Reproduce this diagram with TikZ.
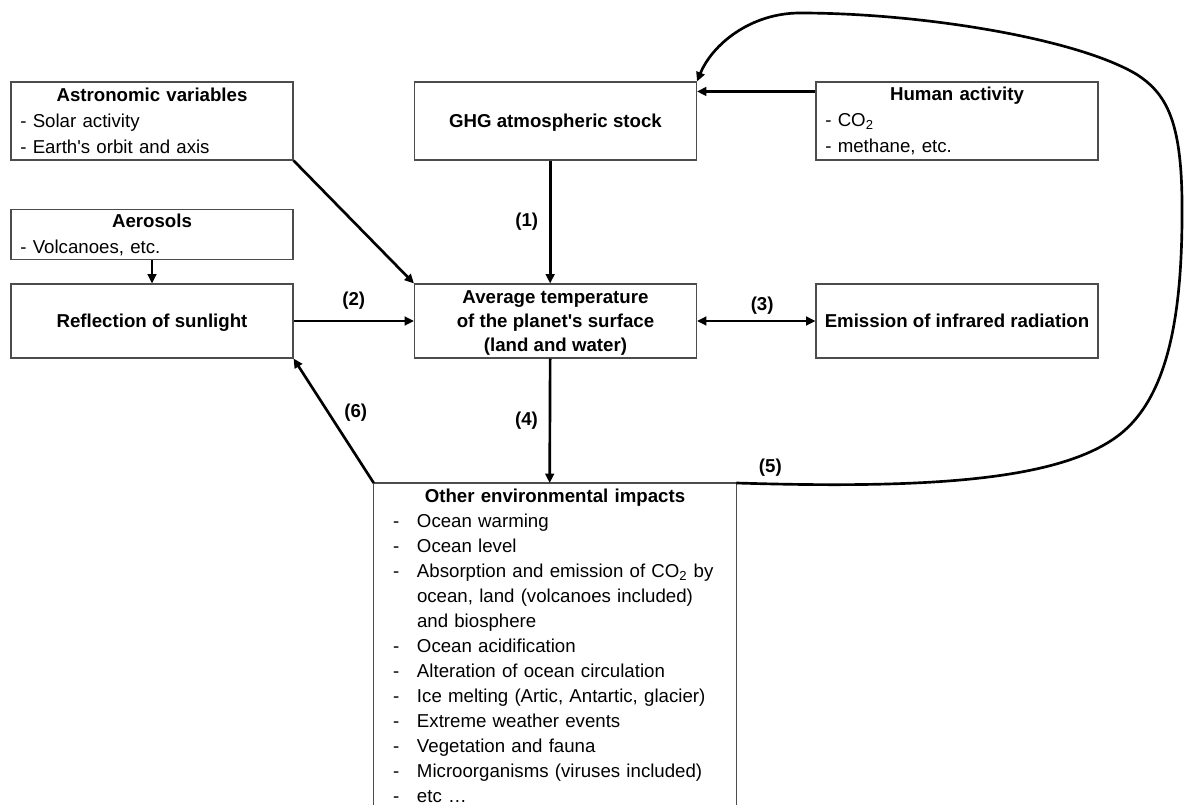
\documentclass[tikz,border=0pt]{standalone}
\usepackage{fontspec}
\setmainfont{Liberation Sans}
\usepackage{tikz}
\usetikzlibrary{arrows.meta,calc}

\tikzstyle{box} = [
    rectangle,
    draw=black!70,
    line width=0.8pt,
    minimum width=211.5pt,
    minimum height=58.5pt,
]
\tikzstyle{plain} = [
    box,
    align=center,
    text depth=0pt,
    font=\fontsize{14}{18}\selectfont\bfseries,
]
\tikzstyle{listbox} = [
    box,
    inner xsep=7pt,
    text width=197.5pt,
    align=left,
    font=\fontsize{14}{19.5}\selectfont,
]
\tikzstyle{impacts} = [
    inner xsep=2pt,
    inner ysep=4pt,
    text width=267.5pt,
    align=left,
    font=\fontsize{14}{18.75}\selectfont,
]
\tikzstyle{frame} = [draw=black!70, line width=0.8pt]
\tikzstyle{arrow} = [-{Triangle[length=7pt,width=6.5pt]}, line width=2pt]
\tikzstyle{twoway} = [{Triangle[length=7pt,width=6.5pt]}-{Triangle[length=7pt,width=6.5pt]}, line width=2pt]
\tikzstyle{numtag} = [font=\fontsize{14}{16}\selectfont\bfseries, inner sep=2pt]

\newcommand{\boxtitle}[1]{\makebox[\linewidth]{\bfseries #1}}
\newcommand{\imp}[1]{\hspace*{12.25pt}\makebox[18pt][l]{-}#1}
\newcommand{\impcont}[1]{\hspace*{30.25pt}#1}

\begin{document}
\begin{tikzpicture}[x=0.75pt, y=0.75pt]
    \clip (0,0) rectangle (1186,-805);

    % boxes
    \node (astro) at (152,-121) [listbox] {\boxtitle{Astronomic variables}\\ - Solar activity\\ - Earth\textquotesingle s orbit and axis};
    \node (aero) at (152,-234.5) [listbox, minimum height=36.75pt] {\boxtitle{Aerosols}\\ - Volcanoes, etc.};
    \node (refl) at (152,-321) [plain, minimum height=55.5pt] {Reflection of sunlight};
    \node (ghg) at (555.5,-121) [plain] {GHG atmospheric stock};
    \node (avg) at (555.5,-321) [plain, minimum height=55.5pt] {Average temperature\\ of the planet\textquotesingle s surface\\ (land and water)};
    \node (human) at (957,-121) [listbox] {\boxtitle{Human activity}\\ - CO\textsubscript{2}\\ - methane, etc.};
    \node (emis) at (957,-321) [plain, minimum height=55.5pt] {Emission of infrared radiation};
    \node (env) at (555,-483) [impacts, anchor=north] {\boxtitle{Other environmental impacts}\\
        \imp{Ocean warming}\\
        \imp{Ocean level}\\
        \imp{Absorption and emission of CO\textsubscript{2} by}\\
        \impcont{ocean, land (volcanoes included)}\\
        \impcont{and biosphere}\\
        \imp{Ocean acidification}\\
        \imp{Alteration of ocean circulation}\\
        \imp{Ice melting (Artic, Antartic, glacier)}\\
        \imp{Extreme weather events}\\
        \imp{Vegetation and fauna}\\
        \imp{Microorganisms (viruses included)}\\
        \imp{etc …}};
    \draw [frame] ([yshift=-400pt]env.north west) -- (env.north west) -- (env.north east) -- ([yshift=-400pt]env.north east);

    % arrows
    \draw [arrow] (astro.south east) -- (avg.north west);
    \draw [arrow] (aero) -- (refl);
    \draw [arrow] (refl) -- node[numtag, above=6pt] {(2)} (avg);
    \draw [arrow] ([yshift=-7.5pt]human.north west) -- ([yshift=-7.5pt]ghg.north east);
    \draw [arrow] ([xshift=-4pt]ghg.south) -- node[numtag, left=6pt] {(1)} ([xshift=-4pt]avg.north);
    \draw [twoway] (avg) -- node[numtag, above=2pt, pos=0.55] {(3)} (emis);
    \draw [arrow] ([xshift=-4pt]avg.south) -- node[numtag, left=6pt] {(4)} ([xshift=-4pt]env.north);
    \draw [arrow] (env.north west) -- node[numtag, right=5pt, yshift=6pt] {(6)} (refl.south east);

    % feedback loop
    \coordinate (bend1) at (1115,-438);
    \coordinate (bend2) at (1182,-200);
    \coordinate (bend3) at (1136,-74);
    \coordinate (top) at (800,-13);
    \draw [arrow] (env.north east) node[numtag, anchor=south west, xshift=14pt, yshift=2pt] {(5)}
        .. controls (930,-489) and (1055,-480) .. (bend1)
        .. controls (1170,-399.5) and (1183,-310) .. (bend2)
        .. controls (1181,-120) and (1166,-93) .. (bend3)
        .. controls (1075,-38) and (920,-13) .. (top)
        .. controls (750,-13) and (712,-45) .. (ghg.north east);
\end{tikzpicture}
\end{document}
